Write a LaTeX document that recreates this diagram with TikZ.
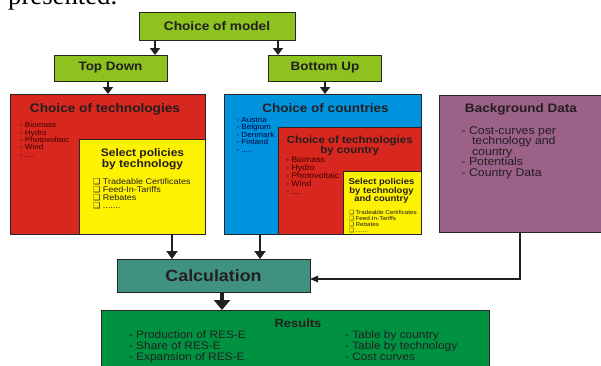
\documentclass[tikz,border=0pt]{standalone}
\usepackage{fontspec}
\setmainfont{Liberation Sans}[FakeStretch=1.1]
\newfontfamily\serifpres{Liberation Serif}
\newfontfamily\dejavu{DejaVu Sans}
\usetikzlibrary{arrows.meta,calc}
\definecolor{mgreen}{HTML}{8DC21F}
\definecolor{mred}{HTML}{D7271E}
\definecolor{myellow}{HTML}{FFF200}
\definecolor{mblue}{HTML}{0093DD}
\definecolor{mpurple}{HTML}{9B6187}
\definecolor{mteal}{HTML}{40917F}
\definecolor{mres}{HTML}{009240}
\definecolor{txt}{HTML}{231F20}
\newcommand\fs[2]{\fontsize{#1}{#2}\selectfont}
\newcommand\cbx{{\dejavu ❑}}
\newcommand\fourdots{....}
\newcommand\sevendots{.......}
\tikzset{
  box/.style={draw=black!85, line width=0.8pt, inner sep=0pt, outer sep=0pt, text=txt},
  ttl/.style={inner sep=0pt, outer sep=0pt, text=txt, anchor=base, font=\bfseries},
  lst/.style={inner sep=0pt, outer sep=0pt, text=txt, anchor=base west},
  arr/.style={draw=txt, line width=2.3pt, -{Triangle[width=10pt,length=7pt]}},
  calcarr/.style={draw=txt, line width=2.3pt, -{Triangle[width=11pt,length=8pt]}},
  bigarr/.style={draw=txt, line width=4.5pt, -{Triangle[width=16pt,length=10pt]}},
  thinarr/.style={draw=txt, line width=1.3pt, -{Triangle[width=6.5pt,length=8pt]}},
}
\begin{document}
\begin{tikzpicture}[x=1pt,y=-1pt]
\useasboundingbox (0,0) rectangle (601,365);
\clip (0,0) rectangle (601,365);
% cut text from above
\node[inner sep=0pt, anchor=base west, font=\serifpres\fs{26.7}{30}, text=black] (pres) at (8,4) {presented.};
% boxes
\node[box, fill=mgreen, minimum width=156pt, minimum height=28pt, font=\bfseries\fs{12.4}{14}] (model) at (217,26) {Choice of model};
\node[box, fill=mgreen, minimum width=113pt, minimum height=26pt, font=\bfseries\fs{12.2}{14}] (td) at (110.5,68) {Top Down};
\node[box, fill=mgreen, minimum width=113pt, minimum height=26pt, font=\bfseries\fs{12.2}{14}] (bu) at (325,68) {Bottom Up};
\node[box, fill=mred, minimum width=195pt, minimum height=140pt] (redA) at (107.5,164) {};
\node[box, fill=myellow, minimum width=126pt, minimum height=95pt] (yelA) at (142,186.5) {};
\node[box, fill=mblue, minimum width=197pt, minimum height=140pt] (blue) at (322.5,164) {};
\node[box, fill=mred, minimum width=143pt, minimum height=107pt] (redB) at (349.5,180.5) {};
\node[box, fill=myellow, minimum width=78pt, minimum height=63pt] (yelB) at (382,202.5) {};
\node[box, fill=mpurple, minimum width=164pt, minimum height=137pt] (purple) at (521,163.5) {};
\node[box, fill=mteal, minimum width=193pt, minimum height=33pt, font=\bfseries\fs{16.2}{18}] (calc) at (213.5,275.5) {Calculation};
\node[box, fill=mres, minimum width=388pt, minimum height=60pt] (res) at (295,340) {};
% red A texts
\node[ttl, font=\bfseries\fs{12.4}{14}] (tA) at (105,112.3) {Choice of technologies};
\foreach \t [count=\i] in {Biomass,Hydro,Photovoltaic,Wind,\fourdots}
  \node[lst, font=\fs{7.4}{8}, text=black!75!red] (ra\i) at (20,{127.7+7.4*(\i-1)}) {- \t};
% yellow A texts
\node[ttl, font=\bfseries\fs{10.9}{12}] (sA1) at (142.5,156.7) {Select policies};
\node[ttl, font=\bfseries\fs{10.9}{12}] (sA2) at (142.5,167.7) {by technology};
\foreach \t [count=\i] in {Tradeable Certificates,Feed-In-Tariffs,Rebates,\sevendots}
  \node[lst, font=\fs{8.2}{9}] (ya\i) at (93,{184+8*(\i-1)}) {\cbx\hspace{2.5pt}\t};
% blue texts
\node[ttl, font=\bfseries\fs{12.3}{14}] (tB) at (325.5,112.3) {Choice of countries};
\foreach \t [count=\i] in {Austria,Belgium,Denmark,Finland,\fourdots}
  \node[lst, font=\fs{7.4}{8}, text=black!75!blue] (ba\i) at (236.5,{122.5+7.4*(\i-1)}) {- \t};
% red B texts
\node[ttl, font=\bfseries\fs{10.4}{12}] (tC1) at (349.7,143.3) {Choice of technologies};
\node[ttl, font=\bfseries\fs{10.4}{12}] (tC2) at (349.7,153.3) {by country};
\foreach \t [count=\i] in {Biomass,Hydro,Photovoltaic,Wind,\fourdots}
  \node[lst, font=\fs{8}{9}, text=black!75!red] (rb\i) at (286,{162.2+8*(\i-1)}) {- \t};
% yellow B texts
\node[ttl, font=\bfseries\fs{8.6}{10}] (sB1) at (381.5,184) {Select policies};
\node[ttl, font=\bfseries\fs{8.6}{10}] (sB2) at (381.5,193) {by technology};
\node[ttl, font=\bfseries\fs{8.6}{10}] (sB3) at (381.5,201.5) {and country};
\foreach \t [count=\i] in {Tradeable Certificates,Feed-In-Tariffs,Rebates,\sevendots}
  \node[lst, font=\fs{5.7}{6}] (yb\i) at (349,{214.5+6*(\i-1)}) {\cbx\hspace{1.5pt}\t};
% purple texts
\node[ttl, font=\bfseries\fs{12.3}{14}] (tD) at (521,112.7) {Background Data};
\node[lst, font=\fs{11.2}{12}] (pd1) at (461.5,134) {- Cost-curves per};
\node[lst, font=\fs{11.2}{12}] (pd2) at (472,144.7) {technology and};
\node[lst, font=\fs{11.2}{12}] (pd3) at (472,155.5) {country};
\node[lst, font=\fs{11.2}{12}] (pd4) at (461.5,165.8) {- Potentials};
\node[lst, font=\fs{11.2}{12}] (pd5) at (461.5,176.3) {- Country Data};
% results texts
\node[ttl, font=\bfseries\fs{11.8}{13}] (tR) at (298,327.3) {Results};
\foreach \t [count=\i] in {Production of RES-E,Share of RES-E,Expansion of RES-E}
  \node[lst, font=\fs{10.8}{12}] (rl\i) at (129,{338.7+11*(\i-1)}) {- \t};
\foreach \t [count=\i] in {Table by country,Table by technology,Cost curves}
  \node[lst, font=\fs{10.8}{12}] (rr\i) at (345,{338.7+11*(\i-1)}) {- \t};
% arrows
\coordinate (a1) at (155,0);
\coordinate (a2) at (278,0);
\coordinate (a3) at (172,0);
\coordinate (a4) at (260,0);
\coordinate (a5) at (222,0);
\coordinate (a6) at (520,0);
\coordinate (a7) at (108,0);
\draw[arr] (model.south -| a1) -- (td.north -| a1);
\draw[arr] (model.south -| a2) -- (bu.north -| a2);
\draw[arr] (td.south -| a7) -- (redA.north -| a7);
\draw[arr] (bu.south) -- (blue.north -| bu.south);
\draw[calcarr] (redA.south -| a3) -- (calc.north -| a3);
\draw[calcarr] (blue.south -| a4) -- (calc.north -| a4);
\draw[bigarr] (calc.south -| a5) -- (res.north -| a5);
\draw[thinarr] (purple.south -| a6) |- ($(calc.east)+(0,3.5)$);
\end{tikzpicture}
\end{document}
